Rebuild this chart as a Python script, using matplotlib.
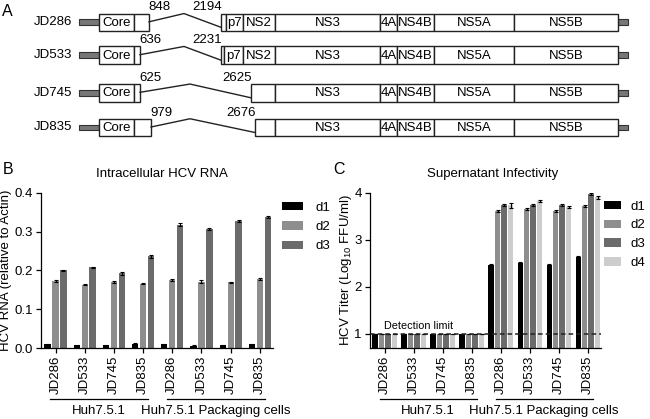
import numpy as np
import matplotlib
matplotlib.use("Agg")
import matplotlib.pyplot as plt
import matplotlib.transforms as mtransforms
from matplotlib.patches import Rectangle

plt.rcParams["font.family"] = ["Liberation Sans", "DejaVu Sans"]
plt.rcParams["font.size"] = 9.5
plt.rcParams["axes.linewidth"] = 0.9

# ---- panel A: genome maps (schematic units) ----
constructs = ["JD286", "JD533", "JD745", "JD835"]
del_start_labels = ["848", "636", "625", "979"]
del_end_labels = ["2194", "2231", "2625", "2676"]
row_y = [22.3, 55.2, 92.8, 127.5]
core_span = (99, 134)
left_box_end = [149, 140, 140, 151]
del_peak_x = [184, 184, 190, 190]
right_parts = [
    [(221, 226, ""), (226, 243, "p7"), (243, 275, "NS2")],
    [(221, 224, ""), (224, 243, "p7"), (243, 275, "NS2")],
    [(251, 275, "")],
    [(255, 275, "")],
]
common_bounds = [275, 380, 397, 434, 514, 618]
common_labels = ["NS3", "4A", "NS4B", "NS5A", "NS5B"]
utr5 = (79, 99)
utr3 = (618, 628)

# ---- panels B and C ----
samples = ["JD286", "JD533", "JD745", "JD835"] * 2
cell_groups = ["Huh7.5.1", "Huh7.5.1 Packaging cells"]

rna_d1 = [0.010, 0.007, 0.007, 0.011, 0.010, 0.006, 0.007, 0.010]
rna_d2 = [0.173, 0.163, 0.170, 0.166, 0.175, 0.171, 0.169, 0.178]
rna_d3 = [0.200, 0.208, 0.192, 0.236, 0.318, 0.307, 0.327, 0.338]
rna_d1_err = [0.001] * 8
rna_d2_err = [0.003, 0.002, 0.002, 0.001, 0.002, 0.004, 0.002, 0.002]
rna_d3_err = [0.002, 0.001, 0.003, 0.004, 0.003, 0.003, 0.003, 0.002]

titer_d1 = [1, 1, 1, 1, 2.47, 2.51, 2.46, 2.64]
titer_d2 = [1, 1, 1, 1, 3.61, 3.65, 3.62, 3.71]
titer_d3 = [1, 1, 1, 1, 3.73, 3.73, 3.73, 3.97]
titer_d4 = [1, 1, 1, 1, 3.73, 3.83, 3.70, 3.90]
titer_d1_err = [0, 0, 0, 0, 0.02, 0.02, 0.02, 0.02]
titer_d2_err = [0, 0, 0, 0, 0.02, 0.02, 0.02, 0.02]
titer_d3_err = [0, 0, 0, 0, 0.02, 0.02, 0.02, 0.02]
titer_d4_err = [0, 0, 0, 0, 0.05, 0.02, 0.02, 0.04]
detection_limit = 1.0

colors = {"d1": "#000000", "d2": "#8e8e8e", "d3": "#6b6b6b", "d4": "#cdcdcd"}

W, H = 650, 419
fig = plt.figure(figsize=(6.5, 4.19), dpi=100)


def fx(px):
    return px / W


def fy(py):
    return 1 - py / H


# ---------------- panel A ----------------
axa = fig.add_axes([0, fy(150), 1, 150 / H])
axa.set_xlim(0, W)
axa.set_ylim(150, 0)
axa.axis("off")
box_h = 17.5
ec = "#222222"


def box(x0, x1, y, label="", fc="white"):
    axa.add_patch(Rectangle((x0, y - box_h / 2), x1 - x0, box_h, facecolor=fc,
                            edgecolor=ec, linewidth=1.0))
    if label:
        axa.text((x0 + x1) / 2, y + 0.5, label, ha="center", va="center", fontsize=9.5)


for i, name in enumerate(constructs):
    y = row_y[i]
    axa.text(72, y, name, ha="right", va="center", fontsize=9.5)
    axa.add_patch(Rectangle((utr5[0], y - 2.8), utr5[1] - utr5[0], 5.6,
                            facecolor="#777777", edgecolor="#333333", linewidth=0.8))
    axa.add_patch(Rectangle((utr3[0], y - 2.8), utr3[1] - utr3[0], 5.6,
                            facecolor="#777777", edgecolor="#333333", linewidth=0.8))
    box(core_span[0], core_span[1], y, "Core")
    box(core_span[1], left_box_end[i], y)
    for x0, x1, lab in right_parts[i]:
        box(x0, x1, y, lab)
    for j, lab in enumerate(common_labels):
        box(common_bounds[j], common_bounds[j + 1], y, lab)
    x_end = right_parts[i][0][0]
    axa.plot([left_box_end[i], del_peak_x[i], x_end],
             [y - 0.5, y - box_h / 2, y + 5], color=ec, linewidth=1.0)
    axa.text(left_box_end[i] - 1, y - 12.0, del_start_labels[i],
             ha="left", va="baseline", fontsize=9.5)
    axa.text(x_end + 1, y - 12.0, del_end_labels[i],
             ha="right", va="baseline", fontsize=9.5)

fig.text(fx(2), fy(11), "A", fontsize=11.5, va="center", ha="left")
fig.text(fx(3), fy(169), "B", fontsize=11.5, va="center", ha="left")
fig.text(fx(333), fy(169), "C", fontsize=11.5, va="center", ha="left")

# ---------------- shared bar helper ----------------
x = np.arange(len(samples))


def style_axis(ax):
    for s in ("top", "right"):
        ax.spines[s].set_visible(False)
    ax.tick_params(direction="out", length=3.5, width=0.9, pad=2, labelsize=9.5)
    ax.set_xticks(x)
    ax.set_xticklabels(samples, rotation=90)
    trans = mtransforms.blended_transform_factory(ax.transData, ax.transAxes)
    for k, grp in enumerate(cell_groups):
        lo, hi = 4 * k - 0.18, 4 * k + 3 + 0.16
        ax.plot([lo, hi], [-0.33, -0.33], color="black", linewidth=0.9,
                transform=trans, clip_on=False)
        ax.text((lo + hi) / 2, -0.405, grp, transform=trans, ha="center",
                va="center", fontsize=9.5)


# ---------------- panel B ----------------
axb = fig.add_axes([fx(40.7), fy(348), fx(273) - fx(40.7), fy(192.7) - fy(348)])
step_b, width_b = 0.272, 0.215
series_b = [("d1", rna_d1, rna_d1_err), ("d2", rna_d2, rna_d2_err), ("d3", rna_d3, rna_d3_err)]
for k, (lab, vals, err) in enumerate(series_b):
    axb.bar(x + (k - 1) * step_b, vals, width_b, color=colors[lab], label=lab,
            yerr=err, error_kw=dict(ecolor="black", elinewidth=0.8, capsize=1.5, capthick=0.8))
axb.set_xlim(-0.507, 7.45)
axb.set_ylim(0, 0.4)
axb.set_yticks([0.0, 0.1, 0.2, 0.3, 0.4])
axb.set_yticklabels(["0.0", "0.1", "0.2", "0.3", "0.4"])
axb.set_ylabel("HCV RNA (relative to Actin)", labelpad=2)
axb.set_title("Intracellular HCV RNA", x=0.52, pad=11, fontsize=9.5)
style_axis(axb)
axb.legend(loc="upper left", bbox_to_anchor=(1.0, 1.0), frameon=False,
           handlelength=1.55, handleheight=0.6, handletextpad=1.0,
           labelspacing=0.55, borderaxespad=0.3, fontsize=9.5)

# ---------------- panel C ----------------
axc = fig.add_axes([fx(369.5), fy(348), fx(601) - fx(369.5), fy(192.7) - fy(348)])
step_c, width_c = 0.222, 0.19
series_c = [("d1", titer_d1, titer_d1_err), ("d2", titer_d2, titer_d2_err),
            ("d3", titer_d3, titer_d3_err), ("d4", titer_d4, titer_d4_err)]
for k, (lab, vals, err) in enumerate(series_c):
    axc.bar(x + (k - 1.5) * step_c, vals, width_c, color=colors[lab], label=lab,
            yerr=err, error_kw=dict(ecolor="black", elinewidth=0.8, capsize=1.5, capthick=0.8))
axc.axhline(detection_limit, color="#222222", linestyle=(0, (3, 2)), linewidth=1.1)
axc.text(1.15, detection_limit + 0.06, "Detection limit", ha="center", va="bottom", fontsize=7.8)
axc.set_xlim(-0.53, 7.45)
axc.set_ylim(0.7, 4)
axc.set_yticks([1, 2, 3, 4])
axc.set_ylabel("HCV Titer (Log$_{\\mathregular{10}}$ FFU/ml)", labelpad=0.5)
axc.set_title("Supernatant Infectivity", x=0.53, pad=11, fontsize=9.5)
style_axis(axc)
axc.legend(loc="upper left", bbox_to_anchor=(0.98, 1.0), frameon=False,
           handlelength=1.3, handleheight=0.6, handletextpad=0.7,
           labelspacing=0.52, borderaxespad=0.2, fontsize=9.5)

fig.savefig("out.png", dpi=100)
